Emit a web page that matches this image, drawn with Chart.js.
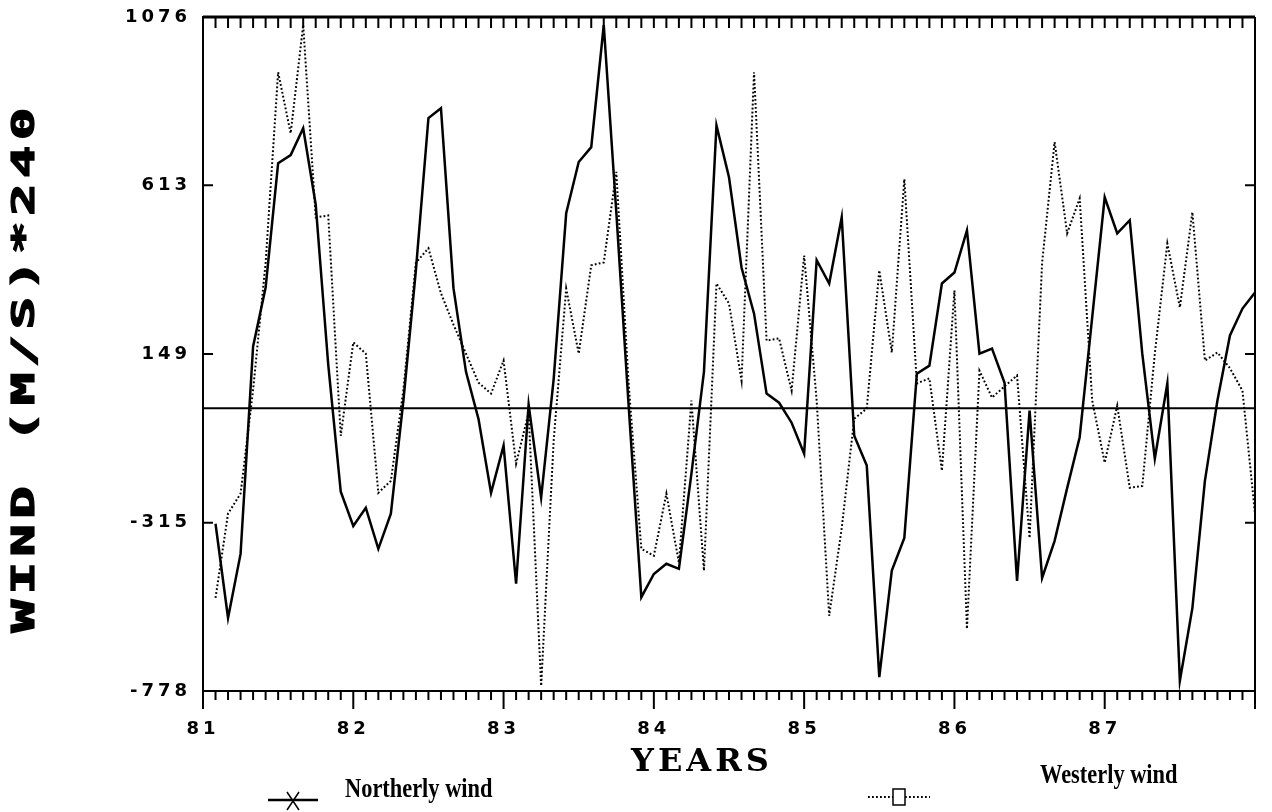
<!DOCTYPE html>
<html>
<head>
<meta charset="utf-8">
<title>Wind (M/S)*240</title>
<script src="https://cdn.jsdelivr.net/npm/chart.js@4.4.1/dist/chart.umd.min.js"></script>
<style>
  html, body { margin: 0; padding: 0; background: #fff; }
</style>
</head>
<body>
<canvas id="chart" width="1272" height="812"></canvas>
<script>
// monthly values, Jan 81 .. Dec 87
var startYear = 81;
var yearLabels = ["81", "82", "83", "84", "85", "86", "87"];
var yTicks = [-778, -315, 149, 613, 1076];
var zeroLevel = 0;

var northerly = [-318, -577, -401, 170, 332, 674, 696, 770, 560, 120,
  -230, -324, -274, -387, -290, 20, 380, 798, 825, 330,
  100, -30, -233, -103, -483, 10, -246, 80, 536, 677,
  718, 1054, 540, 0, -520, -456, -428, -442, -180, 100,
  778, 635, 387, 260, 40, 15, -40, -125, 407, 343,
  525, -76, -158, -740, -447, -357, 95, 117, 343, 373,
  489, 150, 164, 70, -475, -7, -467, -365, -220, -80,
  250, 580, 481, 517, 150, -139, 68, -750, -550, -200,
  21, 200, 274, 318];

var westerly = [-522, -290, -235, 50, 400, 924, 756, 1054, 525, 530,
  -76, 181, 150, -233, -200, 50, 400, 440, 316, 230,
  150, 70, 40, 131, -153, -12, -764, -89, 329, 150,
  393, 401, 650, 60, -387, -406, -235, -425, 21, -447,
  343, 288, 76, 924, 186, 192, 48, 420, 21, -571,
  -330, -29, -1, 379, 153, 630, 68, 82, -172, 324,
  -607, 103, 29, 60, 90, -357, 400, 732, 481, 577,
  21, -150, 7, -219, -214, 150, 453, 277, 539, 131,
  153, 110, 48, -290];

function toPoints(values) {
  return values.map(function (v, i) {
    return { x: startYear + (i + 1) / 12, y: v };
  });
}

// frame, monthly ticks, titles and legend
var framePlugin = {
  id: "frame",
  beforeDraw: function (chart) {
    chart.ctx.letterSpacing = "4px";
  },
  beforeDatasetsDraw: function (chart) {
    chart.ctx.letterSpacing = "0px";
  },
  afterDraw: function (chart) {
    var ctx = chart.ctx;
    var a = chart.chartArea;
    var xs = chart.scales.x;
    var ys = chart.scales.y;
    ctx.save();
    ctx.letterSpacing = "0px";
    ctx.strokeStyle = "#000";
    ctx.fillStyle = "#000";

    ctx.lineWidth = 3;
    ctx.beginPath();
    ctx.moveTo(a.left, a.top);
    ctx.lineTo(a.right, a.top);
    ctx.stroke();
    ctx.lineWidth = 2;
    ctx.beginPath();
    ctx.moveTo(a.right, a.top);
    ctx.lineTo(a.right, a.bottom);
    ctx.stroke();

    ctx.lineWidth = 2;
    ctx.beginPath();
    for (var m = 0; m <= 84; m++) {
      var px = xs.getPixelForValue(startYear + m / 12);
      ctx.moveTo(px, a.top);
      ctx.lineTo(px, a.top + 11);
      var len = m % 12 === 0 ? 18 : 9;
      ctx.moveTo(px, a.bottom);
      ctx.lineTo(px, a.bottom + len);
    }
    yTicks.forEach(function (v) {
      var py = ys.getPixelForValue(v);
      ctx.moveTo(a.left, py);
      ctx.lineTo(a.left + 10, py);
      ctx.moveTo(a.right - 10, py);
      ctx.lineTo(a.right, py);
    });
    ctx.stroke();

    // y title
    ctx.save();
    ctx.translate(26, 370);
    ctx.rotate(-Math.PI / 2);
    ctx.scale(1.7, 1);
    ctx.font = "bold 32px 'DejaVu Sans Mono'";
    ctx.letterSpacing = "3px";
    ctx.textAlign = "center";
    ctx.textBaseline = "middle";
    ctx.lineWidth = 1.2;
    ctx.fillText("WIND (M/S)*240", 1.5, 0);
    ctx.strokeText("WIND (M/S)*240", 1.5, 0);
    ctx.restore();

    // x title
    ctx.save();
    ctx.font = "bold 32px 'DejaVu Serif'";
    ctx.letterSpacing = "4px";
    ctx.textAlign = "center";
    ctx.textBaseline = "middle";
    ctx.fillText("YEARS", 702, 763);
    ctx.restore();

    // legend
    var ds = chart.data.datasets;
    ctx.save();
    ctx.lineWidth = ds[0].borderWidth;
    ctx.beginPath();
    ctx.moveTo(268, 800);
    ctx.lineTo(318, 800);
    ctx.stroke();
    ctx.lineWidth = 1.5;
    ctx.beginPath();
    ctx.moveTo(287, 792);
    ctx.lineTo(299, 810);
    ctx.moveTo(299, 792);
    ctx.lineTo(287, 810);
    ctx.stroke();

    ctx.lineWidth = ds[1].borderWidth;
    ctx.setLineDash(ds[1].borderDash);
    ctx.beginPath();
    ctx.moveTo(868, 797);
    ctx.lineTo(893, 797);
    ctx.moveTo(905, 797);
    ctx.lineTo(930, 797);
    ctx.stroke();
    ctx.setLineDash([]);
    ctx.lineWidth = 1.5;
    ctx.strokeRect(893, 789, 12, 16);

    ctx.font = "bold 28px 'Liberation Serif'";
    ctx.textAlign = "left";
    ctx.textBaseline = "alphabetic";
    ctx.save();
    ctx.translate(345, 797);
    ctx.scale(0.8, 1);
    ctx.fillText(ds[0].label, 0, 0);
    ctx.restore();
    ctx.save();
    ctx.translate(1040, 783);
    ctx.scale(0.8, 1);
    ctx.fillText(ds[1].label, 0, 0);
    ctx.restore();
    ctx.restore();

    ctx.restore();
  }
};

var tickFont = { family: "'DejaVu Sans'", size: 18, weight: "bold" };

var config = {
  type: "line",
  data: {
    datasets: [
      {
        label: "Northerly wind",
        data: toPoints(northerly),
        borderColor: "#000",
        borderWidth: 2.5,
        pointRadius: 0,
        tension: 0,
        fill: false
      },
      {
        label: "Westerly wind",
        data: toPoints(westerly),
        borderColor: "#000",
        borderWidth: 2,
        borderDash: [1.8, 2.2],
        pointRadius: 0,
        tension: 0,
        fill: false
      },
      {
        label: "zero",
        data: [{ x: startYear, y: zeroLevel }, { x: startYear + 7, y: zeroLevel }],
        borderColor: "#000",
        borderWidth: 2,
        pointRadius: 0,
        fill: false
      }
    ]
  },
  options: {
    responsive: false,
    animation: false,
    layout: { padding: { top: 17, right: 17, left: 0, bottom: 0 } },
    plugins: {
      legend: { display: false },
      title: { display: false },
      tooltip: { enabled: false }
    },
    scales: {
      x: {
        type: "linear",
        min: startYear,
        max: startYear + 7,
        grid: { display: false },
        border: { display: true, color: "#000", width: 2 },
        afterBuildTicks: function (scale) {
          scale.ticks = yearLabels.map(function (l) { return { value: Number(l) }; });
        },
        afterFit: function (scale) { scale.height = 121; },
        ticks: {
          autoSkip: false,
          maxRotation: 0,
          padding: 20,
          color: "#000",
          font: tickFont,
          callback: function (value) { return String(value); }
        }
      },
      y: {
        min: -778,
        max: 1076,
        grid: { display: false },
        border: { display: true, color: "#000", width: 2 },
        afterBuildTicks: function (scale) {
          scale.ticks = yTicks.map(function (v) { return { value: v }; });
        },
        afterFit: function (scale) { scale.width = 203; },
        ticks: {
          padding: 4,
          color: "#000",
          font: tickFont,
          callback: function (value) { return String(value); }
        }
      }
    }
  },
  plugins: [framePlugin]
};

var myChart = new Chart(document.getElementById("chart"), config);
</script>
</body>
</html>
